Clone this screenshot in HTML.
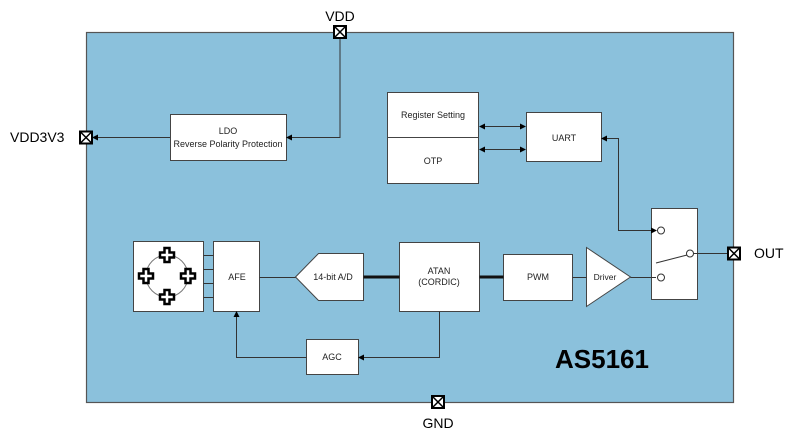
<!DOCTYPE html>
<html><head><meta charset="utf-8"><style>
body{margin:0;background:#fff;}
svg{display:block;font-family:"Liberation Sans",sans-serif;}
</style></head><body>
<svg width="800" height="437" viewBox="0 0 800 437" xmlns="http://www.w3.org/2000/svg">
<defs>
<marker id="a" markerWidth="6" markerHeight="6" refX="5" refY="3" orient="auto" markerUnits="userSpaceOnUse"><path d="M0,0 L6,3 L0,6 z" fill="#000"/></marker>
<marker id="as" markerWidth="6" markerHeight="6" refX="1" refY="3" orient="auto" markerUnits="userSpaceOnUse"><path d="M6,0 L0,3 L6,6 z" fill="#000"/></marker>
<g id="pin"><rect x="-6" y="-6" width="12" height="12" fill="#fff" stroke="#000" stroke-width="2"/><path d="M-5,-5 L5,5 M5,-5 L-5,5" stroke="#000" stroke-width="1.5"/></g>
<g id="plus"><path d="M-2.5,-7 h5 v4.5 h4.5 v5 h-4.5 v4.5 h-5 v-4.5 h-4.5 v-5 h4.5 z" fill="#fff" stroke="#000" stroke-width="2.5"/></g>
</defs>
<rect x="86.5" y="32.5" width="647" height="370" fill="#8bc1dc" stroke="#555" stroke-width="1.2"/>
<g fill="#fff" stroke="#444" stroke-width="1">
<rect x="170.5" y="114.5" width="116" height="46"/>
<rect x="387.5" y="92.5" width="91" height="91"/>
<rect x="526.5" y="112.5" width="75" height="49"/>
<rect x="651.5" y="208.5" width="46" height="91"/>
<rect x="133.5" y="241.5" width="70" height="70"/>
<rect x="213.5" y="241.5" width="46" height="70"/>
<path d="M295.5,277 L318.5,253.5 L363.5,253.5 L363.5,300.5 L318.5,300.5 Z"/>
<rect x="399.5" y="242.5" width="80" height="69"/>
<rect x="503.5" y="254.5" width="69" height="46"/>
<path d="M586.5,247.5 L630.5,277 L586.5,306.5 Z"/>
<rect x="306.5" y="339.5" width="52" height="35"/>
</g>
<line x1="387.5" y1="137.5" x2="478.5" y2="137.5" stroke="#444"/>
<g stroke="#333" stroke-width="1" fill="none">
<polyline points="340,38 340,137.5 287,137.5" marker-end="url(#a)"/>
<line x1="170" y1="137.5" x2="93" y2="137.5" marker-end="url(#a)"/>
<line x1="480" y1="126.5" x2="525" y2="126.5" marker-start="url(#as)" marker-end="url(#a)"/>
<line x1="480" y1="149.5" x2="525" y2="149.5" marker-start="url(#as)" marker-end="url(#a)"/>
<polyline points="656,230.5 618.5,230.5 618.5,138.5 602,138.5" marker-start="url(#as)" marker-end="url(#a)"/>
<line x1="259.5" y1="277.5" x2="295.5" y2="277.5"/>
<line x1="572.5" y1="277.5" x2="586.5" y2="277.5"/>
<line x1="630.5" y1="277.5" x2="656" y2="277.5"/>
<line x1="693" y1="253.5" x2="728" y2="253.5"/>
<line x1="656" y1="263" x2="689" y2="254.5"/>
<polyline points="439.5,311.5 439.5,357.5 359,357.5" marker-end="url(#a)"/>
<polyline points="306.5,357.5 236.5,357.5 236.5,312" marker-end="url(#a)"/>
<line x1="203.5" y1="255.5" x2="213.5" y2="255.5"/>
<line x1="203.5" y1="269.5" x2="213.5" y2="269.5"/>
<line x1="203.5" y1="283.5" x2="213.5" y2="283.5"/>
<line x1="203.5" y1="297.5" x2="213.5" y2="297.5"/>
<circle cx="167" cy="276" r="21" stroke="#777"/>
</g>
<g stroke="#111" stroke-width="3">
<line x1="363.5" y1="277" x2="399.5" y2="277"/>
<line x1="479.5" y1="277" x2="503.5" y2="277"/>
</g>
<g fill="#fff" stroke="#333">
<circle cx="661" cy="230.5" r="3.5"/>
<circle cx="661" cy="277.5" r="3.5"/>
<circle cx="690" cy="253.5" r="3.5"/>
</g>
<use href="#plus" x="167" y="255"/>
<use href="#plus" x="146" y="276"/>
<use href="#plus" x="188" y="276"/>
<use href="#plus" x="167" y="297"/>
<use href="#pin" x="340" y="32"/>
<use href="#pin" x="86" y="137.5"/>
<use href="#pin" x="734" y="253.5"/>
<use href="#pin" x="438" y="402"/>
<g font-size="9" fill="#222" text-anchor="middle">
<text x="228" y="134">LDO</text>
<text x="228" y="147">Reverse Polarity Protection</text>
<text x="433" y="118">Register Setting</text>
<text x="433" y="164">OTP</text>
<text x="564" y="141">UART</text>
<text x="237" y="280">AFE</text>
<text x="333" y="280">14-bit A/D</text>
<text x="439" y="274">ATAN</text>
<text x="439" y="285">(CORDIC)</text>
<text x="538" y="280">PWM</text>
<text x="605" y="280" font-size="8.5">Driver</text>
<text x="332" y="360">AGC</text>
</g>
<g font-size="14" fill="#000">
<text x="340" y="21" text-anchor="middle">VDD</text>
<text x="10" y="142">VDD3V3</text>
<text x="754" y="258">OUT</text>
<text x="438" y="428" text-anchor="middle">GND</text>
</g>
<text x="602" y="368" font-size="26" font-weight="bold" text-anchor="middle" fill="#000">AS5161</text>
</svg>
</body></html>
